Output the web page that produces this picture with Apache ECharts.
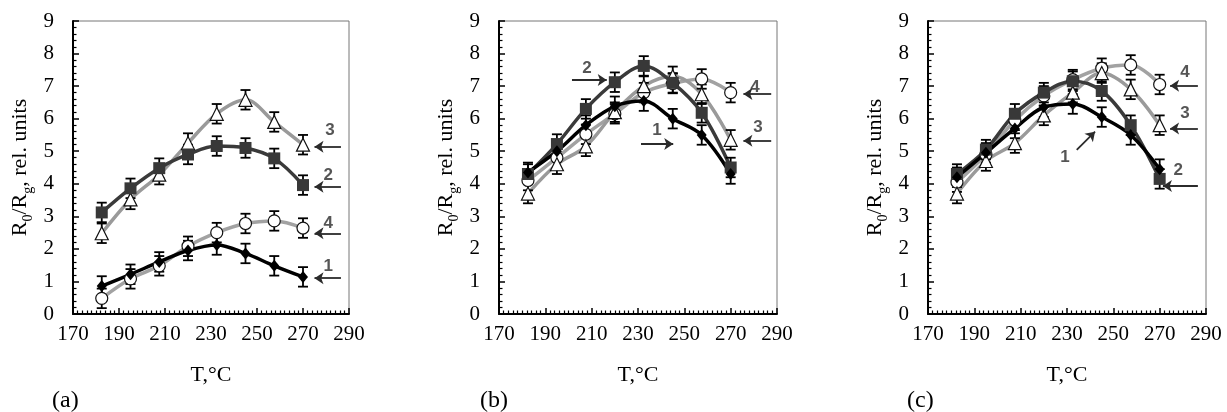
<!DOCTYPE html>
<html>
<head>
<meta charset="utf-8">
<script src="https://cdn.jsdelivr.net/npm/echarts@6/dist/echarts.min.js"></script>
<style>
  html, body { margin: 0; padding: 0; background: #fff; }
  #root { width: 1227px; height: 412px; }
</style>
</head>
<body>
<div id="root"></div>
<script>
// temperatures, °C
const temps = [182.5, 195, 207.5, 220, 232.5, 245, 257.5, 270];
const yTicks = [0, 1, 2, 3, 4, 5, 6, 7, 8, 9];
const xTicks = [170, 190, 210, 230, 250, 270, 290];
const errBar = 0.3;

// panel (a)
const a1 = [0.86, 1.22, 1.6, 1.95, 2.12, 1.86, 1.48, 1.14];
const a2 = [3.12, 3.86, 4.48, 4.9, 5.16, 5.1, 4.78, 3.96];
const a3 = [2.48, 3.52, 4.28, 5.25, 6.15, 6.58, 5.9, 5.2];
const a4 = [0.48, 1.08, 1.48, 2.08, 2.5, 2.78, 2.86, 2.64];
// panel (b)
const b1 = [4.35, 5.0, 5.8, 6.38, 6.54, 6.0, 5.5, 4.3];
const b2 = [4.3, 5.22, 6.3, 7.12, 7.62, 7.1, 6.18, 4.5];
const b3 = [3.7, 4.6, 5.15, 6.2, 7.0, 7.3, 6.75, 5.35];
const b4 = [4.1, 4.8, 5.52, 6.15, 6.8, 7.08, 7.22, 6.8];
// panel (c)
const c1 = [4.2, 4.95, 5.7, 6.35, 6.45, 6.05, 5.5, 4.45];
const c2 = [4.3, 5.05, 6.15, 6.8, 7.15, 6.85, 5.8, 4.15];
const c3 = [3.7, 4.7, 5.25, 6.1, 6.8, 7.4, 6.9, 5.8];
const c4 = [4.05, 4.9, 5.95, 6.7, 7.2, 7.55, 7.65, 7.05];

// curve number labels [x, y, text] and arrows [x1, y1, x2, y2] (arrow head at x2, y2)
const aLabels = [[281.7, 5.65, '3'], [281, 4.27, '2'], [281, 2.79, '4'], [281, 1.45, '1']];
const aArrows = [[286.5, 5.14, 275, 5.14], [286.5, 3.91, 275, 3.91], [286.5, 2.48, 275, 2.48], [286.5, 1.1, 275, 1.1]];
const bLabels = [[208, 7.56, '2'], [280.5, 6.97, '4'], [281.8, 5.74, '3'], [238.2, 5.65, '1']];
const bArrows = [[201.5, 7.19, 216.5, 7.19], [287.5, 6.76, 275.5, 6.76], [287.5, 5.32, 275.5, 5.32], [231.3, 5.22, 245.2, 5.22]];
const cLabels = [[280.9, 7.43, '4'], [280.9, 6.17, '3'], [278, 4.42, '2'], [229.1, 4.82, '1']];
const cArrows = [[286.5, 7.01, 274.5, 7.01], [286.5, 5.7, 274.5, 5.7], [286.5, 3.93, 271.4, 3.93], [234.2, 5.04, 242.1, 5.6]];

const panels = [
  { letter: '(a)', left: 73, series: [a1, a2, a3, a4], labels: aLabels, arrows: aArrows, letterLeft: 47 },
  { letter: '(b)', left: 499, series: [b1, b2, b3, b4], labels: bLabels, arrows: bArrows, letterLeft: 475 },
  { letter: '(c)', left: 928, series: [c1, c2, c3, c4], labels: cLabels, arrows: cArrows, letterLeft: 902 }
];

const SERIF = '"Liberation Serif", "Times New Roman", serif';

// curve styles: 1 black diamonds, 2 dark squares, 3 grey/triangles, 4 grey/circles
const styles = [
  { line: '#000000', width: 3.5, symbol: 'diamond', size: [10, 12], fill: '#000000', border: '#000000' },
  { line: '#3a3a3a', width: 3.5, symbol: 'rect', size: 12, fill: '#383838', border: '#383838' },
  { line: '#9a9a9a', width: 3.5, symbol: 'triangle', size: 13, fill: '#ffffff', border: '#111111' },
  { line: '#a2a2a2', width: 3.5, symbol: 'circle', size: 12, fill: '#ffffff', border: '#111111' }
];

const grids = [], xAxes = [], yAxes = [], series = [], titles = [];

panels.forEach((p, idx) => {
  grids.push({
    left: p.left, top: 21, width: p.left === 73 ? 276 : 278, height: 293,
    show: true, borderColor: '#777', borderWidth: 1, backgroundColor: 'transparent'
  });
  xAxes.push({
    gridIndex: idx, type: 'value', min: xTicks[0], max: xTicks[xTicks.length - 1], interval: 20,
    name: 'T,°C', nameLocation: 'middle', nameGap: 50,
    nameTextStyle: { fontFamily: SERIF, fontSize: 22, color: '#000' },
    axisLine: { onZero: false, lineStyle: { color: '#000', width: 2 } },
    axisTick: { inside: true, length: 6, lineStyle: { color: '#000', width: 1.5 } },
    minorTick: { show: true, splitNumber: 10, length: 3.5, lineStyle: { color: '#000', width: 1.2 } },
    axisLabel: { fontFamily: SERIF, fontSize: 21, color: '#000', margin: 10 },
    splitLine: { show: false }
  });
  yAxes.push({
    gridIndex: idx, type: 'value', min: yTicks[0], max: yTicks[yTicks.length - 1], interval: 1,
    name: '{r|R}{s|0}{r|/R}{s|g}{r|, rel. units}', nameLocation: 'middle', nameGap: 38, nameRotate: 90,
    nameTextStyle: {
      rich: {
        r: { fontFamily: SERIF, fontSize: 22, color: '#000', lineHeight: 30, verticalAlign: 'middle' },
        s: { fontFamily: SERIF, fontSize: 14, color: '#000', lineHeight: 30, verticalAlign: 'bottom' }
      }
    },
    axisLine: { onZero: false, lineStyle: { color: '#000', width: 2 } },
    axisTick: { inside: true, length: 6, lineStyle: { color: '#000', width: 1.5 } },
    minorTick: { show: true, splitNumber: 5, length: 3.5, lineStyle: { color: '#000', width: 1.2 } },
    axisLabel: { fontFamily: SERIF, fontSize: 21, color: '#000', margin: 19 },
    splitLine: { show: false }
  });
  titles.push({
    text: p.letter, left: p.letterLeft, top: 384,
    textStyle: { fontFamily: SERIF, fontSize: 24, fontWeight: 'normal', color: '#000' }
  });

  // draw grey curves first so the dark ones sit on top
  [3, 2, 1, 0].forEach(k => {
    const st = styles[k];
    const pts = temps.map((t, i) => [t, p.series[k][i]]);
    series.push({
      type: 'line', xAxisIndex: idx, yAxisIndex: idx, data: pts, smooth: 0.35,
      showSymbol: false, z: 2 + (3 - k) * 0.01,
      lineStyle: { color: st.line, width: st.width }, silent: true
    });
  });
  // error bars
  [3, 2, 1, 0].forEach(k => {
    series.push({
      type: 'custom', xAxisIndex: idx, yAxisIndex: idx, z: 3, silent: true,
      data: temps.map((t, i) => [t, p.series[k][i], errBar]),
      renderItem: (params, api) => {
        const lo = api.coord([api.value(0), api.value(1) - api.value(2)]);
        const hi = api.coord([api.value(0), api.value(1) + api.value(2)]);
        const w = 5;
        const ls = { stroke: '#000', lineWidth: 1.8 };
        return {
          type: 'group',
          children: [
            { type: 'line', shape: { x1: lo[0], y1: lo[1], x2: hi[0], y2: hi[1] }, style: ls },
            { type: 'line', shape: { x1: lo[0] - w, y1: lo[1], x2: lo[0] + w, y2: lo[1] }, style: ls },
            { type: 'line', shape: { x1: hi[0] - w, y1: hi[1], x2: hi[0] + w, y2: hi[1] }, style: ls }
          ]
        };
      }
    });
  });
  // markers
  [3, 2, 1, 0].forEach(k => {
    const st = styles[k];
    series.push({
      type: 'scatter', xAxisIndex: idx, yAxisIndex: idx, z: 4, silent: true,
      data: temps.map((t, i) => [t, p.series[k][i]]),
      symbol: st.symbol, symbolSize: st.size,
      itemStyle: { color: st.fill, borderColor: st.border, borderWidth: k >= 2 ? 1.2 : 0, opacity: 1 }
    });
  });
  // arrows
  series.push({
    type: 'lines', coordinateSystem: 'cartesian2d', xAxisIndex: idx, yAxisIndex: idx, z: 5, silent: true,
    symbol: ['none', 'arrow'], symbolSize: 9,
    lineStyle: { color: '#2b2b2b', width: 1.8, curveness: 0, opacity: 1 },
    data: p.arrows.map(a => ({ coords: [[a[0], a[1]], [a[2], a[3]]] }))
  });
  // curve numbers
  series.push({
    type: 'scatter', xAxisIndex: idx, yAxisIndex: idx, z: 5, silent: true, symbolSize: 0,
    data: p.labels.map(l => ({ value: [l[0], l[1]], name: l[2] })),
    label: {
      show: true, position: 'inside', formatter: '{b}',
      fontFamily: '"Liberation Sans", Arial, sans-serif', fontWeight: 'bold', fontSize: 17, color: '#2b2b2b'
    }
  });
});

const chart = echarts.init(document.getElementById('root'), null, { renderer: 'canvas' });
chart.setOption({
  animation: false,
  backgroundColor: '#fff',
  title: titles,
  grid: grids,
  xAxis: xAxes,
  yAxis: yAxes,
  series: series
});
</script>
</body>
</html>
